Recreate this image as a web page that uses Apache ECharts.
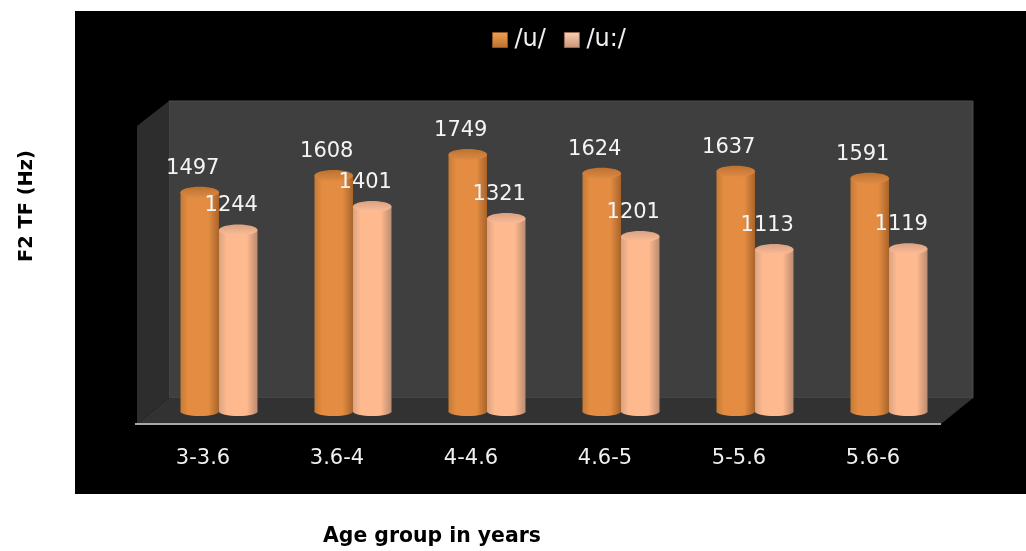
<!DOCTYPE html>
<html>
<head>
<meta charset="utf-8">
<style>html,body{margin:0;padding:0;background:#fff}#chart{width:1026px;height:551px}</style>
<script src="https://cdn.jsdelivr.net/npm/echarts@6/dist/echarts.min.js"></script>
</head>
<body>
<div id="chart"></div>
<script>
// F2 transition frequency by age group for the two vowels
const ageGroups = ['3-3.6', '3.6-4', '4-4.6', '4.6-5', '5-5.6', '5.6-6'];
const shortVowel = [1497, 1608, 1749, 1624, 1637, 1591];
const longVowel = [1244, 1401, 1321, 1201, 1113, 1119];

const FONT = '"DejaVu Sans", sans-serif';
const BAR_WIDTH = 38.5;
const RIM = 5.5;

function hGrad(edgeL, mid, edgeR) {
  return new echarts.graphic.LinearGradient(0, 0, 1, 0, [
    { offset: 0, color: edgeL },
    { offset: 0.2, color: mid },
    { offset: 0.72, color: mid },
    { offset: 1, color: edgeR }
  ]);
}

// A cylinder: base ellipse, shaft, lit cap, then its value label
function cylinder(palette, side) {
  return function (params, api) {
    const value = api.value(1);
    const top = api.coord([api.value(0), value]);
    const base = api.coord([api.value(0), 0]);
    const left = side < 0 ? top[0] - BAR_WIDTH : top[0];
    const cx = left + BAR_WIDTH / 2;
    const footY = base[1] - RIM + 1;
    const body = hGrad(palette.edgeL, palette.mid, palette.edgeR);
    return {
      type: 'group',
      children: [
        { type: 'ellipse', shape: { cx: cx, cy: footY, rx: BAR_WIDTH / 2, ry: RIM - 1 }, style: { fill: body } },
        { type: 'rect', shape: { x: left, y: top[1], width: BAR_WIDTH, height: footY - top[1] }, style: { fill: body } },
        {
          type: 'ellipse',
          shape: { cx: cx, cy: top[1], rx: BAR_WIDTH / 2, ry: RIM },
          style: {
            fill: new echarts.graphic.LinearGradient(0, 0, 0, 1, [
              { offset: 0, color: palette.capBack },
              { offset: 1, color: palette.capFront }
            ])
          }
        },
        {
          type: 'text',
          z2: 100,
          style: {
            x: cx - 7,
            y: top[1] - 24,
            text: String(value),
            align: 'center',
            verticalAlign: 'middle',
            fill: '#f4f4f4',
            font: '21px ' + FONT
          }
        }
      ]
    };
  };
}

const orange = { edgeL: '#c67a35', mid: '#e48d42', edgeR: '#a9642a', capBack: '#bd7230', capFront: '#dd8a44' };
const peach = { edgeL: '#d8a283', mid: '#ffb98f', edgeR: '#bb8c70', capBack: '#d9a182', capFront: '#fdbd97' };

function seriesData(values) {
  return values.map((v, i) => [i, v]);
}

const chart = echarts.init(document.getElementById('chart'), null, { renderer: 'canvas' });

chart.setOption({
  backgroundColor: '#ffffff',
  animation: false,
  grid: { left: 152, right: 70, top: 117, bottom: 135 },
  legend: {
    left: 487,
    top: 23,
    itemWidth: 15,
    itemHeight: 15,
    itemGap: 18,
    selectedMode: false,
    textStyle: { color: '#f0f0f0', fontFamily: FONT, fontSize: 24, padding: [0, 0, 0, 2] },
    data: [
      {
        name: '/u/', icon: 'rect',
        itemStyle: {
          color: new echarts.graphic.LinearGradient(0, 0, 0, 1, [
            { offset: 0, color: '#f0a050' }, { offset: 1, color: '#b96f2e' }
          ]),
          borderColor: '#8a5424', borderWidth: 1
        }
      },
      {
        name: '/u:/', icon: 'rect',
        itemStyle: {
          color: new echarts.graphic.LinearGradient(0, 0, 0, 1, [
            { offset: 0, color: '#ffd0b0' }, { offset: 1, color: '#c89478' }
          ]),
          borderColor: '#8f6d58', borderWidth: 1
        }
      }
    ]
  },
  xAxis: {
    type: 'category',
    data: ageGroups,
    offset: 9,
    axisLine: { show: false },
    axisTick: { show: false },
    axisLabel: { color: '#f0f0f0', fontFamily: FONT, fontSize: 21, margin: 23, padding: [0, 32, 0, 0] }
  },
  yAxis: { type: 'value', min: 0, max: 2000, show: false },
  // Plot box: black panel, walls, floor and baseline, with the axis titles outside it
  graphic: [
    { type: 'rect', z: -10, shape: { x: 75, y: 11, width: 951, height: 483 }, style: { fill: '#000000' } },
    { type: 'rect', z: -9, shape: { x: 169, y: 101, width: 804, height: 297 }, style: { fill: '#3f3f3f', stroke: '#4a4a4a', lineWidth: 1 } },
    { type: 'polygon', z: -9, shape: { points: [[137, 126], [169, 101], [169, 398], [137, 424]] }, style: { fill: '#2d2d2d' } },
    { type: 'polygon', z: -9, shape: { points: [[137, 424], [169, 398], [973, 398], [941, 424]] }, style: { fill: '#323232' } },
    { type: 'rect', z: -8, shape: { x: 135, y: 423, width: 806, height: 2 }, style: { fill: '#a8a8a8' } },
    {
      type: 'text', left: 323, top: 527,
      style: { text: 'Age group in years', fill: '#000000', font: 'bold 20.4px ' + FONT }
    },
    {
      type: 'text', x: 27, y: 206, rotation: Math.PI / 2,
      style: { text: 'F2 TF (Hz)', fill: '#000000', font: 'bold 19.4px ' + FONT, align: 'center', verticalAlign: 'middle' }
    }
  ],
  series: [
    {
      name: '/u/', type: 'custom', data: seriesData(shortVowel),
      itemStyle: { color: '#e48d42' },
      renderItem: cylinder(orange, -1)
    },
    {
      name: '/u:/', type: 'custom', data: seriesData(longVowel),
      itemStyle: { color: '#ffb98f' },
      renderItem: cylinder(peach, 1)
    }
  ]
});
</script>
</body>
</html>
